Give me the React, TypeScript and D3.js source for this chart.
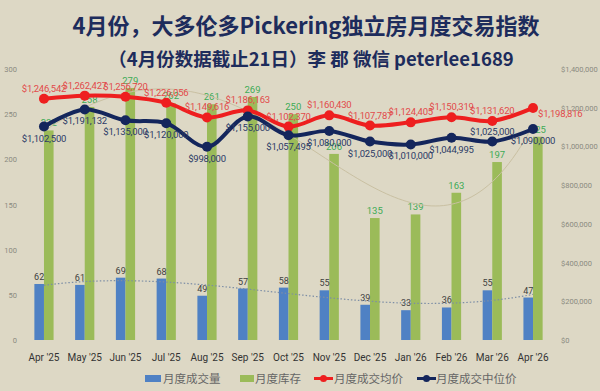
import React from "react";
import * as d3 from "d3";

// chart data
const months = ["Apr '25", "May '25", "Jun '25", "Jul '25", "Aug '25", "Sep '25", "Oct '25", "Nov '25", "Dec '25", "Jan '26", "Feb '26", "Mar '26", "Apr '26"];
const sales = [62, 61, 69, 68, 49, 57, 58, 55, 39, 33, 36, 55, 47];
const inventory = [232, 258, 279, 262, 261, 269, 250, 206, 135, 139, 163, 197, 225];
const avgPrice = [1246542, 1262427, 1256720, 1226056, 1149616, 1186163, 1102370, 1160430, 1107787, 1124405, 1150319, 1131620, 1198816];
const medianPrice = [1102500, 1191132, 1135000, 1120000, 998000, 1155000, 1057495, 1080000, 1025000, 1010000, 1044995, 1025000, 1090000];
const leftTicks = [0, 50, 100, 150, 200, 250, 300];
const rightTicks = [0, 200000, 400000, 600000, 800000, 1000000, 1200000, 1400000];
const legendItems = ["月度成交量", "月度库存", "月度成交均价", "月度成交中位价"];

const W = 600;
const H = 391;
const BG = "#ddd8c5";
const BLUE = "#4f81c4";
const GREEN = "#9bbb59";
const RED = "#ee1f1f";
const NAVY = "#14265c";
const NUM_FONT = "Roboto, sans-serif";
const CJK = "'Noto Sans CJK SC', sans-serif";

// least squares polynomial, like excel's poly trendline
function polyFit(ys: number[], order: number) {
  const n = order + 1;
  const A: number[][] = Array.from({ length: n }, () => Array(n + 1).fill(0));
  ys.forEach((y, i) => {
    const x = (i - 6) / 6;
    for (let r = 0; r < n; r++) {
      for (let c = 0; c < n; c++) A[r][c] += Math.pow(x, r + c);
      A[r][n] += y * Math.pow(x, r);
    }
  });
  for (let p = 0; p < n; p++) {
    let best = p;
    for (let r = p + 1; r < n; r++) if (Math.abs(A[r][p]) > Math.abs(A[best][p])) best = r;
    [A[p], A[best]] = [A[best], A[p]];
    for (let r = 0; r < n; r++) {
      if (r === p) continue;
      const f = A[r][p] / A[p][p];
      for (let c = p; c <= n; c++) A[r][c] -= f * A[p][c];
    }
  }
  const coef = A.map((row, i) => row[n] / row[i]);
  return (i: number) => {
    const x = (i - 6) / 6;
    return coef.reduce((s, c, k) => s + c * Math.pow(x, k), 0);
  };
}

export default function App() {
  const x = d3.scaleBand().domain(months).range([23.6, 553.4]).paddingInner(0);
  const cx = (i: number) => (x(months[i]) as number) + x.bandwidth() / 2;
  const yL = d3.scaleLinear().domain([0, 300]).range([340, 69]);
  const yR = d3.scaleLinear().domain([0, 1400000]).range([340, 69]);
  const barW = 9.6;
  const fmt = (v: number) => "$" + d3.format(",")(v);

  const priceLine = (vals: number[]) =>
    d3
      .line<number>()
      .x((_, i) => cx(i))
      .y((d) => yR(d))
      .curve(d3.curveCatmullRom.alpha(0.5))(vals) || "";

  const trend = (vals: number[], order: number) => {
    const f = polyFit(vals, order);
    const steps = d3.range(0, 12.01, 0.1);
    return (
      d3
        .line<number>()
        .x((t) => cx(0) + t * x.step())
        .y((t) => yL(f(t)))(steps) || ""
    );
  };

  return (
    <svg width={W} height={H} style={{ position: "absolute", left: 0, top: 0 }}>
      <rect width={W} height={H} fill={BG} />

      <text x={306} y={34} textAnchor="middle" fontFamily={CJK} fontWeight="bold" fontSize={22} fill="#1d2c5c">
        4月份，大多伦多Pickering独立房月度交易指数
      </text>
      <text x={311} y={66} textAnchor="middle" fontFamily={CJK} fontWeight="bold" fontSize={18.5} fill="#1d2c5c">
        （4月份数据截止21日）李 郡 微信 peterlee1689
      </text>

      {/* axes labels */}
      {leftTicks.map((t) => (
        <text key={"l" + t} x={17} y={yL(t) + 3} textAnchor="end" fontFamily={NUM_FONT} fontSize={7.5} fill="#8a8a80">
          {t}
        </text>
      ))}
      {rightTicks.map((t) => (
        <text key={"r" + t} x={561} y={yR(t) + 3} fontFamily={NUM_FONT} fontSize={7.5} fill="#8a8a80">
          {fmt(t)}
        </text>
      ))}
      {months.map((m, i) => (
        <text key={m} x={cx(i)} y={361} textAnchor="middle" fontFamily={NUM_FONT} fontSize={10} fill="#333">
          {m}
        </text>
      ))}

      {/* bars */}
      {sales.map((v, i) => (
        <rect key={"s" + i} x={cx(i) - barW} y={yL(v)} width={barW} height={yL(0) - yL(v)} fill={BLUE} />
      ))}
      {inventory.map((v, i) => (
        <rect key={"g" + i} x={cx(i)} y={yL(v)} width={barW} height={yL(0) - yL(v)} fill={GREEN} />
      ))}
      {sales.map((v, i) => (
        <text key={"sl" + i} x={cx(i) - barW / 2} y={yL(v) - 4} textAnchor="middle" fontFamily={NUM_FONT} fontSize={9} fill="#404040">
          {v}
        </text>
      ))}
      {inventory.map((v, i) => (
        <text key={"gl" + i} x={cx(i) + barW / 2} y={yL(v) - 4} textAnchor="middle" fontFamily={NUM_FONT} fontSize={9.5} fill="#3dab55">
          {v}
        </text>
      ))}

      {/* trendlines */}
      <path d={trend(inventory, 4)} fill="none" stroke="#c9c0a2" strokeWidth={1} />
      <path d={trend(sales, 3)} fill="none" stroke="#7d8ea6" strokeWidth={1.2} strokeDasharray="1.5,2" />

      {/* price lines */}
      <path d={priceLine(avgPrice)} fill="none" stroke={RED} strokeWidth={4} />
      {avgPrice.map((v, i) => (
        <circle key={"rc" + i} cx={cx(i)} cy={yR(v)} r={5} fill={RED} />
      ))}
      <path d={priceLine(medianPrice)} fill="none" stroke={NAVY} strokeWidth={4} />
      {medianPrice.map((v, i) => (
        <circle key={"nc" + i} cx={cx(i)} cy={yR(v)} r={5} fill={NAVY} />
      ))}

      {avgPrice.map((v, i) => {
        const last = i === avgPrice.length - 1;
        return (
          <text
            key={"rl" + i}
            x={last ? cx(i) + 5 : cx(i)}
            y={last ? yR(v) + 9 : yR(v) - 7}
            textAnchor={last ? "start" : "middle"}
            fontFamily={NUM_FONT}
            fontSize={9.5}
            letterSpacing={-0.2}
            fill="#e24a4a"
          >
            {fmt(v)}
          </text>
        );
      })}
      {medianPrice.map((v, i) => {
        const above = i === 11;
        return (
          <text
            key={"nl" + i}
            x={cx(i)}
            y={above ? yR(v) - 7 : yR(v) + 15}
            textAnchor="middle"
            fontFamily={NUM_FONT}
            fontSize={9.5}
            letterSpacing={-0.2}
            fill="#2b3a66"
          >
            {fmt(v)}
          </text>
        );
      })}

      {/* legend */}
      <g fontFamily={CJK} fontSize={11.5} fill="#666">
        <rect x={145} y={375} width={16} height={7} fill={BLUE} />
        <text x={163} y={383}>{legendItems[0]}</text>
        <rect x={240} y={375} width={14} height={7} fill={GREEN} />
        <text x={255} y={383}>{legendItems[1]}</text>
        <line x1={314} x2={333} y1={378.5} y2={378.5} stroke={RED} strokeWidth={3} />
        <circle cx={323.5} cy={378.5} r={3.5} fill={RED} />
        <text x={334} y={383}>{legendItems[2]}</text>
        <line x1={417} x2={436} y1={378.5} y2={378.5} stroke={NAVY} strokeWidth={3} />
        <circle cx={426.5} cy={378.5} r={3.5} fill={NAVY} />
        <text x={436} y={383}>{legendItems[3]}</text>
      </g>
    </svg>
  );
}
